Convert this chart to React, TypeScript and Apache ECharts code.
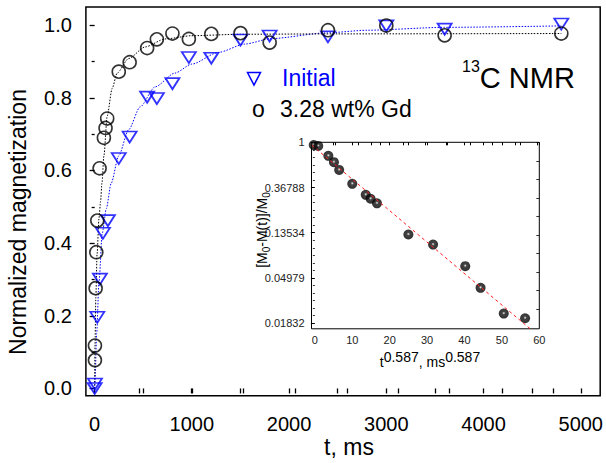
import React, { useEffect, useRef } from 'react';
import * as echarts from 'echarts';

// ---- Main plot data (t in ms, normalized magnetization) ----
const INITIAL_T = [0, 3, 27, 54, 85, 136, 248, 360, 540, 640, 800, 969, 1200, 1500, 1800, 2400, 3000, 3600, 4800];
const INITIAL_M = [0.0, 0.012, 0.196, 0.301, 0.427, 0.462, 0.633, 0.692, 0.802, 0.798, 0.839, 0.911, 0.909, 0.959, 0.970, 0.968, 0.998, 0.989, 1.003];

const GD_T = [3, 3, 10, 17, 27, 51, 95, 112, 129, 248, 360, 540, 640, 800, 969, 1200, 1500, 1800, 2400, 3000, 3600, 4800];
const GD_M = [0.078, 0.118, 0.276, 0.375, 0.462, 0.606, 0.690, 0.717, 0.743, 0.872, 0.898, 0.937, 0.961, 0.977, 0.962, 0.976, 0.978, 0.952, 0.986, 0.999, 0.972, 0.977];

// fitted curves
const INITIAL_FIT_T = [0, 3, 21, 44, 78, 120, 170, 247, 349, 468, 621, 825, 1001, 1273, 1545, 1816, 2393, 2800, 3600, 4800];
const INITIAL_FIT_M = [0, 0.015, 0.152, 0.29, 0.427, 0.495, 0.565, 0.64, 0.712, 0.775, 0.83, 0.868, 0.893, 0.925, 0.948, 0.963, 0.979, 0.986, 0.994, 0.998];

const GD_FIT_T = [0, 4, 12, 25, 45, 61, 75, 95, 129, 180, 231, 349, 519, 723, 1000, 1500, 2500, 4800];
const GD_FIT_M = [0, 0.12, 0.25, 0.37, 0.47, 0.515, 0.565, 0.64, 0.75, 0.826, 0.868, 0.908, 0.94, 0.962, 0.971, 0.975, 0.976, 0.977];

const X_LABELS = [0, 1000, 2000, 3000, 4000, 5000];
const X_TICKS = [0, 500, 1000, 1500, 2000, 2500, 3000, 3500, 4000, 4500, 5000];
const Y_LABELS = [0, 0.2, 0.4, 0.6, 0.8, 1.0];
const Y_MINOR = [0.1, 0.3, 0.5, 0.7, 0.9];
const TOP_TICKS = [461, 995, 1527, 2060, 2594, 3126, 3652, 4188, 4721];

// ---- Inset data: x = t^0.587, y = [M0-M(t)]/M0 (log e scale) ----
const INSET_X = [-0.3, 0.9, 3.6, 5.1, 6.5, 10.0, 13.6, 14.9, 16.6, 25.0, 31.6, 40.2, 44.3, 50.5, 56.2];
const INSET_Y = [0.94, 0.923, 0.741, 0.644, 0.543, 0.399, 0.313, 0.287, 0.259, 0.130, 0.104, 0.0646, 0.0400, 0.0226, 0.0204];
const INSET_FIT_X = [-0.8, 57.6];
const INSET_FIT_Y = [0.937, 0.0161];

const INSET_X_LABELS = [0, 10, 20, 30, 40, 50, 60];
const INSET_X_TICKS = [0, 5, 10, 15, 20, 25, 30, 35, 40, 45, 50, 55, 60];
const INSET_Y_LABELS_LN = [-4, -3, -2, -1, 0];
const INSET_TOP_TICKS = [5.5, 11.5, 17.5, 23.5, 29.5, 35.5, 41.5, 47.5, 53.5, 59.5];

const FONT = "'Liberation Sans', Arial, sans-serif";

export default function App() {
  const ref = useRef<HTMLDivElement>(null);
  useEffect(() => {
    const chart = echarts.init(ref.current!, null, { renderer: 'svg' });

    const zip = (a: number[], b: number[]) => a.map((v, i) => [v, b[i]]);
    const zipLn = (a: number[], b: number[]) => a.map((v, i) => [v, Math.log(b[i])]);

    const insetRightTicks: number[] = [];
    for (let k = 0; k <= 9; k++) insetRightTicks.push(-0.41 * k);
    const insetLeftMinor: number[] = [];
    for (let k = 1; k < 25; k++) if (k % 6 !== 0) insetLeftMinor.push(-k / 6);

    const blue = '#0000ff';
    const tickStyle = { color: '#000', width: 1.3 };

    const option: any = {
      animation: false,
      backgroundColor: '#fff',
      grid: [
        { left: 85.9, top: 7, width: 519.5, height: 388.7, show: true, borderColor: '#000', borderWidth: 1.5, backgroundColor: 'transparent', containLabel: false },
        { left: 311.5, top: 142.3, width: 227.8, height: 186.5, show: true, borderColor: '#000', borderWidth: 1, backgroundColor: '#fff', containLabel: false },
      ],
      xAxis: [
        {
          gridIndex: 0, type: 'value', min: -90, max: 5200, position: 'bottom',
          axisLine: { show: false }, splitLine: { show: false },
          axisTick: { show: true, inside: false, length: 5, lineStyle: tickStyle, customValues: X_TICKS },
          axisLabel: { customValues: X_LABELS, fontSize: 20, color: '#000', fontFamily: FONT, margin: 18, formatter: (v: number) => String(Math.round(v)) },
        },
        {
          gridIndex: 0, type: 'value', min: -90, max: 5200, position: 'top',
          axisLine: { show: false }, splitLine: { show: false },
          axisTick: { show: true, inside: true, length: 5, lineStyle: tickStyle, customValues: TOP_TICKS },
          axisLabel: { show: false },
        },
        {
          gridIndex: 1, type: 'value', min: -0.9, max: 60, position: 'bottom',
          axisLine: { show: false }, splitLine: { show: false },
          axisTick: { show: true, inside: false, length: 3, lineStyle: { color: '#000', width: 1 }, customValues: INSET_X_TICKS },
          axisLabel: { customValues: INSET_X_LABELS, fontSize: 11, color: '#222', fontFamily: FONT, margin: 6, formatter: (v: number) => String(Math.round(v)) },
        },
        {
          gridIndex: 1, type: 'value', min: -0.9, max: 60, position: 'top',
          axisLine: { show: false }, splitLine: { show: false },
          axisTick: { show: true, inside: true, length: 3, lineStyle: { color: '#000', width: 1 }, customValues: INSET_TOP_TICKS },
          axisLabel: { show: false },
        },
      ],
      yAxis: [
        {
          gridIndex: 0, type: 'value', min: -0.02, max: 1.05, position: 'left',
          axisLine: { show: false }, splitLine: { show: false },
          axisTick: { show: true, inside: false, length: 5, lineStyle: tickStyle, customValues: Y_LABELS },
          axisLabel: { customValues: Y_LABELS, fontSize: 20, color: '#000', fontFamily: FONT, margin: 14, formatter: (v: number) => v.toFixed(1) },
        },
        {
          gridIndex: 0, type: 'value', min: -0.02, max: 1.05, position: 'left', offset: 0,
          axisLine: { show: false }, splitLine: { show: false },
          axisTick: { show: true, inside: false, length: 3, lineStyle: tickStyle, customValues: Y_MINOR },
          axisLabel: { show: false },
        },
        {
          gridIndex: 1, type: 'value', min: -4.126, max: 0, position: 'left',
          axisLine: { show: false }, splitLine: { show: false },
          axisTick: { show: true, inside: false, length: 4, lineStyle: { color: '#000', width: 1 }, customValues: INSET_Y_LABELS_LN },
          axisLabel: {
            customValues: INSET_Y_LABELS_LN, fontSize: 11, color: '#222', fontFamily: FONT, margin: 7,
            formatter: (v: number) => (Math.abs(v) < 1e-9 ? '1' : Math.exp(v).toFixed(5)),
          },
        },
        {
          gridIndex: 1, type: 'value', min: -4.126, max: 0, position: 'left', offset: 0,
          axisLine: { show: false }, splitLine: { show: false },
          axisTick: { show: true, inside: false, length: 2, lineStyle: { color: '#000', width: 0.8 }, customValues: insetLeftMinor },
          axisLabel: { show: false },
        },
        {
          gridIndex: 1, type: 'value', min: -4.126, max: 0, position: 'right', offset: 0,
          axisLine: { show: false }, splitLine: { show: false },
          axisTick: { show: true, inside: true, length: 3, lineStyle: { color: '#000', width: 0.8 }, customValues: insetRightTicks },
          axisLabel: { show: false },
        },
      ],
      series: [
        {
          type: 'line', xAxisIndex: 0, yAxisIndex: 0, data: zip(INITIAL_FIT_T, INITIAL_FIT_M),
          showSymbol: false, symbol: 'none', smooth: 0.25, smoothMonotone: 'x', silent: true, z: 2,
          lineStyle: { color: blue, width: 1, type: [1.5, 1.5] },
        },
        {
          type: 'line', xAxisIndex: 0, yAxisIndex: 0, data: zip(GD_FIT_T, GD_FIT_M),
          showSymbol: false, symbol: 'none', smooth: 0.25, smoothMonotone: 'x', silent: true, z: 2,
          lineStyle: { color: '#000', width: 1, type: [1.5, 1.5] },
        },
        {
          type: 'scatter', xAxisIndex: 0, yAxisIndex: 0, data: zip(INITIAL_T, INITIAL_M),
          symbol: 'triangle', symbolRotate: 180, symbolSize: [14, 11], z: 3,
          itemStyle: { color: 'rgba(0,0,0,0)', borderColor: blue, borderWidth: 1.8 },
        },
        {
          type: 'scatter', xAxisIndex: 0, yAxisIndex: 0, data: zip(GD_T, GD_M),
          symbol: 'circle', symbolSize: 13, z: 4,
          itemStyle: { color: 'rgba(0,0,0,0)', borderColor: '#000', borderWidth: 1.6 },
        },
        {
          type: 'scatter', xAxisIndex: 2, yAxisIndex: 2, data: zipLn(INSET_X, INSET_Y),
          symbol: 'circle', symbolSize: 10, z: 5,
          itemStyle: {
            color: {
              type: 'radial', x: 0.5, y: 0.45, r: 0.5,
              colorStops: [
                { offset: 0, color: '#ffffff' },
                { offset: 0.12, color: '#9a9a9a' },
                { offset: 0.32, color: '#151515' },
                { offset: 1, color: '#000' },
              ],
            },
          },
        },
        {
          type: 'line', xAxisIndex: 2, yAxisIndex: 2, data: zipLn(INSET_FIT_X, INSET_FIT_Y),
          showSymbol: false, symbol: 'none', silent: true, z: 6, clip: true,
          lineStyle: { color: '#ff1a1a', width: 1, type: [3, 3] },
        },
      ],
      graphic: [
        {
          type: 'polygon', z: 10,
          shape: { points: [[247.5, 72.5], [260.5, 72.5], [254, 85]] },
          style: { fill: 'none', stroke: blue, lineWidth: 1.5 },
        },
        {
          type: 'text', x: 282, y: 78, z: 10,
          style: { text: 'Initial', fontSize: 23, fontFamily: FONT, fill: blue, align: 'left', verticalAlign: 'middle' },
        },
        {
          type: 'text', x: 252, y: 108.5, z: 10,
          style: { text: 'o', fontSize: 23, fontFamily: FONT, fill: '#000', align: 'left', verticalAlign: 'middle' },
        },
        {
          type: 'text', x: 280, y: 108.5, z: 10,
          style: { text: '3.28 wt% Gd', fontSize: 23, fontFamily: FONT, fill: '#000', align: 'left', verticalAlign: 'middle' },
        },
        {
          type: 'text', x: 462, y: 78, z: 10,
          style: {
            text: '{s|13}{b|C NMR}', align: 'left', verticalAlign: 'middle', fontFamily: FONT,
            rich: {
              s: { fontSize: 16, lineHeight: 16, verticalAlign: 'top', fontFamily: FONT, fill: '#000' },
              b: { fontSize: 29, lineHeight: 40, fontFamily: FONT, fill: '#000' },
            },
          },
        },
        {
          type: 'text', x: 349, y: 447, z: 10,
          style: { text: 't, ms', fontSize: 23, fontFamily: FONT, fill: '#000', align: 'center', verticalAlign: 'middle' },
        },
        {
          type: 'text', x: 18, y: 222, rotation: Math.PI / 2, z: 10,
          style: { text: 'Normalized magnetization', fontSize: 23, fontFamily: FONT, fill: '#000', align: 'center', verticalAlign: 'middle' },
        },
        {
          type: 'text', x: 262, y: 230, rotation: Math.PI / 2, z: 10,
          style: {
            text: '{b|[M}{s|0}{b|-M(t)]/M}{s|0}', align: 'center', verticalAlign: 'middle', fontFamily: FONT,
            rich: {
              b: { fontSize: 14, lineHeight: 18, fontFamily: FONT, fill: '#000' },
              s: { fontSize: 10, lineHeight: 10, verticalAlign: 'bottom', fontFamily: FONT, fill: '#000' },
            },
          },
        },
        {
          type: 'text', x: 430, y: 362, z: 10,
          style: {
            text: '{b|t}{p|0.587}{b|, ms}{p|0.587}', align: 'center', verticalAlign: 'middle', fontFamily: FONT,
            rich: {
              b: { fontSize: 14, lineHeight: 24, fontFamily: FONT, fill: '#000' },
              p: { fontSize: 14, lineHeight: 14, verticalAlign: 'top', fontFamily: FONT, fill: '#000' },
            },
          },
        },
      ],
    };

    chart.setOption(option);
    return () => chart.dispose();
  }, []);

  return (
    <div
      ref={ref}
      style={{ position: 'fixed', left: 0, top: 0, width: 606, height: 463, background: '#fff' }}
    />
  );
}
